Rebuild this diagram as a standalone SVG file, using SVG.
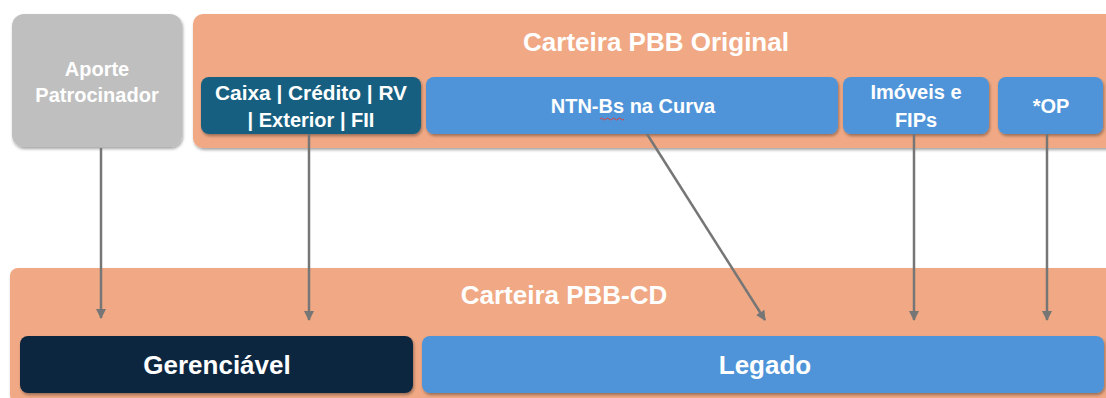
<svg xmlns="http://www.w3.org/2000/svg" width="1106" height="398" viewBox="0 0 1106 398">
  <defs>
    <filter id="shadow" x="-5%" y="-5%" width="110%" height="120%">
      <feDropShadow dx="1" dy="2" stdDeviation="1.5" flood-color="#000" flood-opacity="0.35"/>
    </filter>
    <marker id="arrow" viewBox="0 0 10 10" refX="9" refY="5" markerWidth="4" markerHeight="4" orient="auto">
      <path d="M0,0 L10,5 L0,10 z" fill="#767676"/>
    </marker>
  </defs>
  <style>
    text { font-family: "Liberation Sans", Arial, sans-serif; font-weight: bold; fill: #fff; text-anchor: middle; }
    .title { font-size: 26px; }
    .lbl { font-size: 20px; }
    .big { font-size: 26px; }
    .conn { stroke: #767676; stroke-width: 2.5; fill: none; marker-end: url(#arrow); }
  </style>
  <rect width="1106" height="398" fill="#fff"/>

  <!-- upper container -->
  <g id="carteira-original">
    <rect x="193" y="14" width="930" height="134" rx="10" fill="#F0A984" filter="url(#shadow)"/>
    <text class="title" x="656" y="51">Carteira PBB Original</text>
  </g>

  <g id="aporte">
    <rect x="12" y="14" width="170" height="133" rx="12" fill="#BFBFBF" filter="url(#shadow)"/>
    <text class="lbl" x="97" y="76">Aporte</text>
    <text class="lbl" x="97" y="102">Patrocinador</text>
  </g>

  <g id="caixa">
    <rect x="201" y="77" width="220" height="57" rx="8" fill="#185F80" filter="url(#shadow)"/>
    <text class="lbl" x="311" y="100" textLength="192" lengthAdjust="spacingAndGlyphs">Caixa | Crédito | RV</text>
    <text class="lbl" x="311" y="127">| Exterior | FII</text>
  </g>

  <g id="ntnb">
    <rect x="426" y="77" width="412" height="57" rx="8" fill="#4F94D8" filter="url(#shadow)"/>
    <text class="lbl" x="633" y="113">NTN-Bs na Curva</text>
    <path d="M600,119 q1.5,-2 3,0 t3,0 t3,0 t3,0 t3,0 t3,0 t3,0 t3,0" stroke="#E0403A" stroke-width="1" fill="none"/>
  </g>

  <g id="imoveis">
    <rect x="843" y="77" width="146" height="57" rx="8" fill="#4F94D8" filter="url(#shadow)"/>
    <text class="lbl" x="916" y="99">Imóveis e</text>
    <text class="lbl" x="916" y="127">FIPs</text>
  </g>

  <g id="op">
    <rect x="998" y="77" width="105" height="57" rx="8" fill="#4F94D8" filter="url(#shadow)"/>
    <text class="lbl" x="1051" y="113">*OP</text>
  </g>

  <!-- lower container -->
  <g id="carteira-cd">
    <rect x="10" y="268" width="1110" height="135" rx="8" fill="#F0A984" filter="url(#shadow)"/>
    <text class="title" x="564" y="304">Carteira PBB-CD</text>
  </g>

  <g id="gerenciavel">
    <rect x="20" y="336" width="393" height="57" rx="8" fill="#11263F" filter="url(#shadow)"/>
    <text class="big" x="217" y="374">Gerenciável</text>
  </g>

  <g id="legado">
    <rect x="422" y="336" width="682" height="57" rx="8" fill="#4F94D8" filter="url(#shadow)"/>
    <text class="big" x="765" y="374">Legado</text>
  </g>

  <!-- connectors -->
  <g id="connectors">
    <line class="conn" x1="101" y1="148" x2="101" y2="318"/>
    <line class="conn" x1="309" y1="134" x2="309" y2="320"/>
    <line class="conn" x1="647" y1="134" x2="765" y2="320"/>
    <line class="conn" x1="914" y1="134" x2="914" y2="320"/>
    <line class="conn" x1="1047" y1="134" x2="1047" y2="320"/>
  </g>
</svg>
